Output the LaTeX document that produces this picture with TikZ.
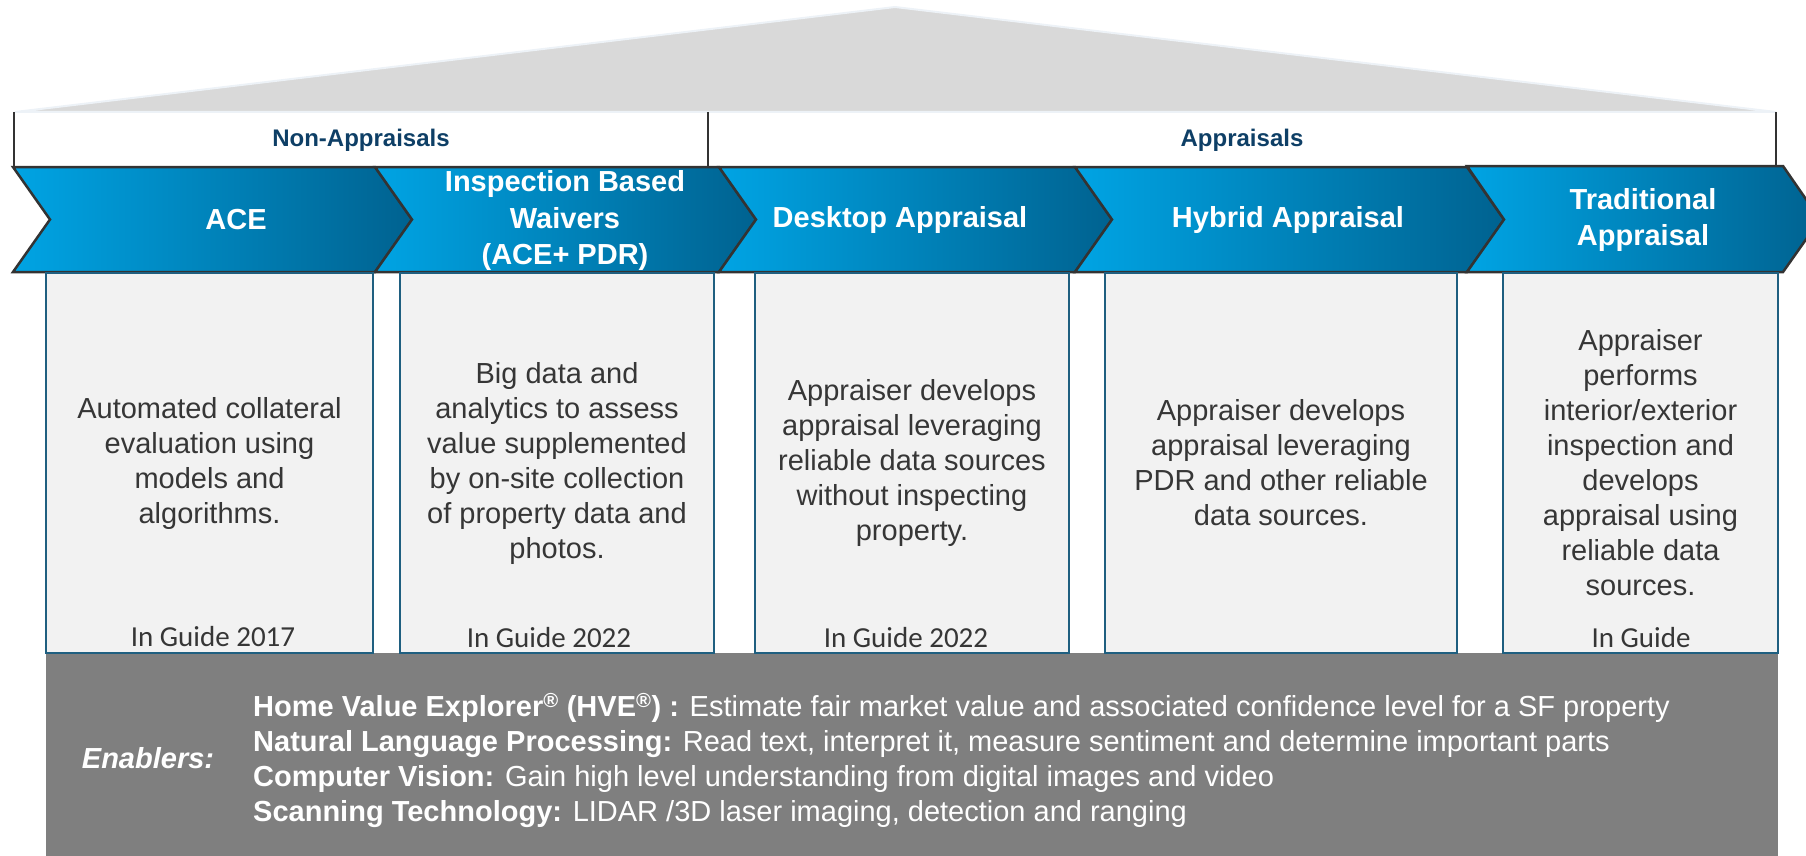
\documentclass[tikz,border=0pt]{standalone}
\usepackage{fontspec}
\setmainfont{Liberation Sans}
\newfontfamily\guidefont{Carlito}
\usepackage{tikz}
\usetikzlibrary{positioning}

\definecolor{roofgray}{HTML}{D9D9D9}
\definecolor{roofedge}{HTML}{EDF2F7}
\definecolor{rulegray}{HTML}{333333}
\definecolor{hdrblue}{HTML}{0E3F66}
\definecolor{chevlt}{HTML}{00A4E4}
\definecolor{chevdk}{HTML}{006290}
\definecolor{chevedge}{HTML}{333333}
\definecolor{boxfill}{HTML}{F2F2F2}
\definecolor{boxedge}{HTML}{1F5F80}
\definecolor{txtgray}{HTML}{363636}
\definecolor{panelgray}{HTML}{7F7F7F}

\begin{document}
\begin{tikzpicture}[
  x=1pt,y=-1pt,
  rule/.style={draw=rulegray,line width=1.5pt},
  hdr/.style={text=hdrblue,inner sep=0pt,font=\fontsize{24}{28}\selectfont\bfseries},
  chev/.style={left color=chevlt,right color=chevdk,draw=chevedge,line width=2.5pt},
  chevtxt/.style={text=white,inner sep=0pt,align=center,
                  font=\fontsize{29}{36.5}\selectfont\bfseries},
  body/.style={draw=boxedge,fill=boxfill,line width=2pt,minimum height=380pt,
               inner sep=0pt,align=center,text=txtgray,
               font=\fontsize{29}{35}\selectfont},
  guide/.style={text=txtgray,inner sep=0pt,font=\guidefont\fontsize{29}{35}\selectfont},
  enab/.style={text=white,inner sep=0pt,align=left,font=\fontsize{29}{35}\selectfont}
]
\useasboundingbox (0,0) rectangle (1806,856);

% roof and header band
\filldraw[fill=roofgray,draw=roofedge,line width=2pt] (15,112) -- (895,7) -- (1776,112) -- cycle;
\draw[rule] (14,112) -- (14,167);
\draw[rule] (708,112) -- (708,167);
\draw[rule] (1776,112) -- (1776,167);
\node[hdr] (nonappr) at (361,140) {Non-Appraisals};
\node[hdr] (appr) at (1242,140) {Appraisals};

% enablers panel
\fill[panelgray] (46,653) rectangle (1778,856);

% process chevrons
\path[chev] (13,167) -- (375,167) -- (412,219.5) -- (375,272) -- (13,272) -- (50,219.5) -- cycle;
\path[chev] (375,167) -- (719,167) -- (756,219.5) -- (719,272) -- (375,272) -- (412,219.5) -- cycle;
\path[chev] (719,167) -- (1075,167) -- (1112,219.5) -- (1075,272) -- (719,272) -- (756,219.5) -- cycle;
\path[chev] (1075,167) -- (1467,167) -- (1504,219.5) -- (1467,272) -- (1075,272) -- (1112,219.5) -- cycle;
\path[chev] (1467,166) -- (1783,166) -- (1820,219.5) -- (1783,272) -- (1467,272) -- (1504,219.5) -- cycle;
\node[chevtxt] (ace) at (236,220) {ACE};
\node[chevtxt] (ibw) at (565,221) {Inspection Based\\Waivers\\(ACE+ PDR)};
\node[chevtxt] (desk) at (900,220) {Desktop Appraisal};
\node[chevtxt] (hyb) at (1288,220) {Hybrid Appraisal};
\node[chevtxt] (trad) at (1643,220) {Traditional\\Appraisal};

% description boxes
\node[body,minimum width=327pt] (acebox) at (209.5,463)
  {Automated collateral\\evaluation using\\models and\\algorithms.};
\node[body,minimum width=314pt] (ibwbox) at (557,463)
  {Big data and\\analytics to assess\\value supplemented\\by on-site collection\\of property data and\\photos.};
\node[body,minimum width=314pt] (deskbox) at (912,463)
  {Appraiser develops\\appraisal leveraging\\reliable data sources\\without inspecting\\property.};
\node[body,minimum width=352pt] (hybbox) at (1281,463)
  {Appraiser develops\\appraisal leveraging\\PDR and other reliable\\data sources.};
\node[body,minimum width=275pt] (tradbox) at (1640.5,463)
  {Appraiser\\performs\\interior/exterior\\inspection and\\develops\\appraisal using\\reliable data\\sources.};
\node[guide] (aceyr) at (213,637) {In Guide 2017};
\node[guide] (ibwyr) at (549,638) {In Guide 2022};
\node[guide] (deskyr) at (906,638) {In Guide 2022};
\node[guide] (tradyr) at (1641,638) {In Guide};

% enablers
\node[text=white,inner sep=0pt,font=\fontsize{29}{35}\selectfont\bfseries\itshape] (enablers) at (148,758) {Enablers:};
\node[enab,anchor=west] (enablist) at (253,760)
  {\textbf{Home Value Explorer\textsuperscript{®} (HVE\textsuperscript{®}) :} Estimate fair market value and associated confidence level for a SF property\\
   \textbf{Natural Language Processing:} Read text, interpret it, measure sentiment and determine important parts\\
   \textbf{Computer Vision:} Gain high level understanding from digital images and video\\
   \textbf{Scanning Technology:} LIDAR /3D laser imaging, detection and ranging};
\end{tikzpicture}
\end{document}
